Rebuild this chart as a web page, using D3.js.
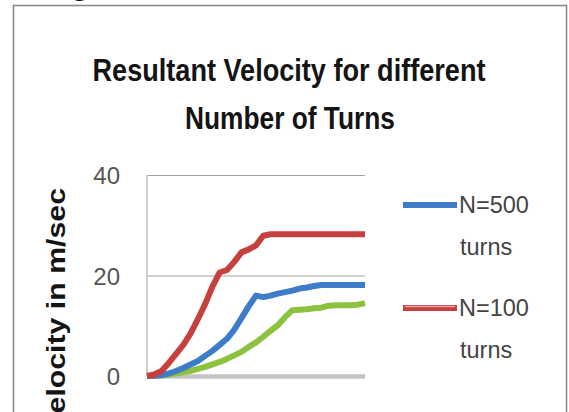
<!DOCTYPE html>
<html>
<head>
<meta charset="utf-8">
<script src="https://cdn.jsdelivr.net/npm/d3@7"></script>
<style>
  html, body { margin: 0; padding: 0; background: #fff; }
  svg { display: block; }
</style>
</head>
<body>
<svg id="chart" width="569" height="412"></svg>
<script>
// Time steps (sample index) shared by all series
const steps = d3.range(0, 31);

// Resultant velocity (m/sec) per step
const velocityN500 = [0, 0.05, 0.2, 0.5, 1.0, 1.6, 2.3, 3.0, 4.0, 5.0, 6.2, 7.4, 9.2, 11.5, 13.9, 16.0,
  15.7, 16.0, 16.4, 16.7, 17.0, 17.4, 17.6, 17.9, 18.1, 18.1, 18.1, 18.1, 18.1, 18.1, 18.1];
const velocityN100 = [0, 0.3, 1.0, 2.6, 4.4, 6.2, 8.5, 11.3, 14.3, 17.8, 20.6, 21.1, 22.7, 24.6, 25.2, 26.0,
  27.9, 28.2, 28.2, 28.2, 28.2, 28.2, 28.2, 28.2, 28.2, 28.2, 28.2, 28.2, 28.2, 28.2, 28.2];
const velocityN50 = [0, 0.05, 0.1, 0.3, 0.5, 0.8, 1.0, 1.4, 1.8, 2.3, 2.8, 3.4, 4.1, 4.8, 5.8, 6.7,
  7.8, 9.0, 10.1, 11.7, 13.1, 13.2, 13.3, 13.5, 13.6, 14.0, 14.1, 14.1, 14.1, 14.2, 14.5];

const yTicks = [0, 20, 40];
const titleLines = ["Resultant Velocity for different", "Number of Turns"];
const yTitle = "Velocity in m/sec";
const legendLabels = [["N=500", "turns"], ["N=100", "turns"]];

const series = [
  { values: velocityN50, color: "#8dc23f" },
  { values: velocityN500, color: "#3c7cc8" },
  { values: velocityN100, color: "#c6403e" }
];

const svg = d3.select("#chart");

// fragment of the caption line above the chart frame
svg.append("text")
  .attr("x", 71).attr("y", -5)
  .attr("font-family", "Liberation Sans, Arial, sans-serif")
  .attr("font-weight", "bold").attr("font-size", 30)
  .attr("fill", "#111")
  .text("g");

// chart frame
svg.append("rect")
  .attr("x", 13.5).attr("y", 5.5)
  .attr("width", 553).attr("height", 430)
  .attr("fill", "#fff")
  .attr("stroke", "#8a8a8a").attr("stroke-width", 1.6);

// title
const titleFont = "'Liberation Sans Narrow', 'Liberation Sans', Arial, sans-serif";
const titleSpec = [{ x: 92.5, y: 80.5, len: 393 }, { x: 185, y: 129, len: 210 }];
svg.selectAll("text.title").data(titleLines).join("text")
  .attr("class", "title")
  .attr("x", (d, i) => titleSpec[i].x)
  .attr("y", (d, i) => titleSpec[i].y)
  .attr("textLength", (d, i) => titleSpec[i].len)
  .attr("lengthAdjust", "spacingAndGlyphs")
  .attr("font-family", titleFont)
  .attr("font-weight", "bold")
  .attr("font-size", 31)
  .attr("fill", "#141414")
  .text(d => d);

// scales
const x = d3.scaleLinear().domain([0, 30]).range([147, 365]);
const y = d3.scaleLinear().domain([0, 40]).range([376, 175]);

// gridlines + tick labels
const yAxis = d3.axisLeft(y)
  .tickValues(yTicks)
  .tickSize(-(x.range()[1] - x.range()[0]))
  .tickPadding(27)
  .tickFormat(d3.format("d"));

const gAxis = svg.append("g")
  .attr("transform", `translate(${x.range()[0]},0)`)
  .call(yAxis);
gAxis.select(".domain").remove();
gAxis.selectAll(".tick line")
  .attr("stroke", d => d === 0 ? "#c4c4c4" : "#a3a3a3")
  .attr("stroke-width", d => d === 0 ? 4.5 : 1.2);
gAxis.selectAll(".tick text")
  .attr("font-family", "'Liberation Sans', Arial, sans-serif")
  .attr("font-size", 24)
  .attr("fill", "#555")
  .attr("dy", "0.36em");

// vertical axis line
svg.append("line")
  .attr("x1", x.range()[0]).attr("x2", x.range()[0])
  .attr("y1", y(40)).attr("y2", y(0))
  .attr("stroke", "#c0c0c0").attr("stroke-width", 1.5);

// y axis title
svg.append("text")
  .attr("transform", `translate(65,188) rotate(-90)`)
  .attr("text-anchor", "end")
  .attr("textLength", 244)
  .attr("lengthAdjust", "spacingAndGlyphs")
  .attr("font-family", titleFont)
  .attr("font-weight", "bold")
  .attr("font-size", 25)
  .attr("fill", "#141414")
  .text(yTitle);

// series lines
const line = d3.line()
  .x((d, i) => x(steps[i]))
  .y(d => y(d));

svg.append("g").selectAll("path").data(series).join("path")
  .attr("d", d => line(d.values))
  .attr("fill", "none")
  .attr("stroke", d => d.color)
  .attr("stroke-width", 6)
  .attr("stroke-linejoin", "round")
  .attr("stroke-linecap", "butt");

// legend
const legendSeries = [series[1], series[2]];
const legend = svg.append("g");
const legendY = [205, 308];
legendSeries.forEach((s, i) => {
  const g = legend.append("g").attr("transform", `translate(0,${legendY[i]})`);
  g.append("line")
    .attr("x1", 403).attr("x2", 457)
    .attr("stroke", s.color).attr("stroke-width", 6);
  if (i === 1) {
    g.append("line")
      .attr("x1", 405).attr("x2", 455)
      .attr("y1", -1.5).attr("y2", -1.5)
      .attr("stroke", "#e7a3a2").attr("stroke-width", 1.5);
  }
  g.append("text")
    .attr("x", 459).attr("y", 0).attr("dy", "0.36em")
    .attr("font-family", "'Liberation Sans', Arial, sans-serif")
    .attr("font-size", 23.5)
    .attr("fill", "#444")
    .text(legendLabels[i][0]);
  g.append("text")
    .attr("x", 460).attr("y", 42).attr("dy", "0.36em")
    .attr("font-family", "'Liberation Sans', Arial, sans-serif")
    .attr("font-size", 23.5)
    .attr("fill", "#444")
    .text(legendLabels[i][1]);
});
</script>
</body>
</html>
